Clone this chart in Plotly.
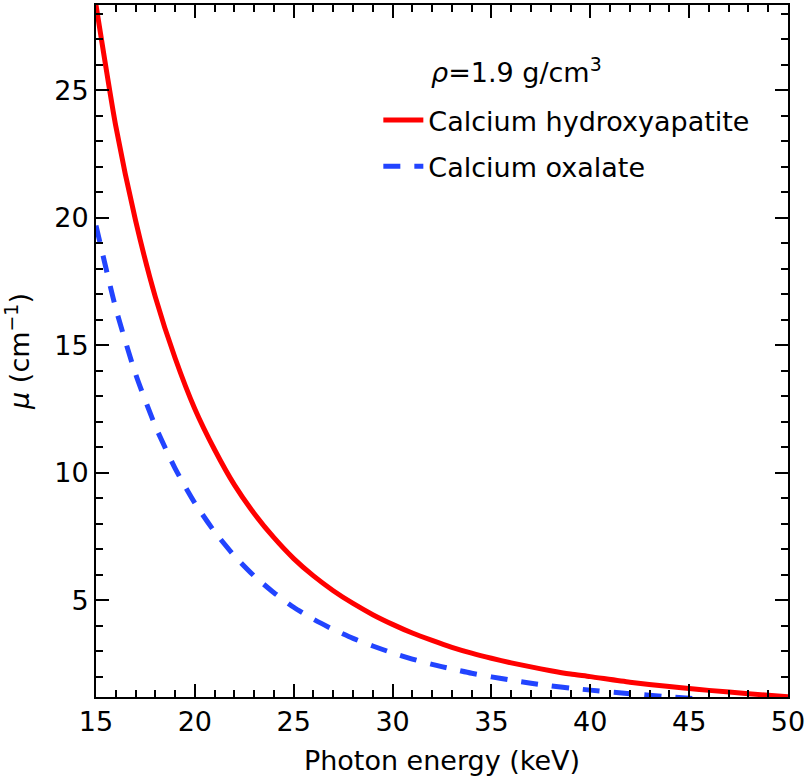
import plotly.graph_objects as go

# Photon energy (keV)
energy_hap = [15, 16, 17, 18, 19, 20, 21, 22, 23, 24, 25, 26, 27, 28, 29, 30,
              31, 32, 33, 34, 35, 36, 37, 38, 39, 40, 42, 44, 45, 46, 48, 50]
mu_hap = [28.35, 23.6, 19.9, 16.9, 14.5, 12.5, 10.9, 9.52, 8.4, 7.45, 6.63, 5.95,
          5.37, 4.87, 4.43, 4.05, 3.71, 3.42, 3.15, 2.92, 2.72, 2.54, 2.38, 2.23,
          2.10, 2.0, 1.78, 1.61, 1.53, 1.46, 1.33, 1.21]

energy_ox = [15, 16, 17, 18, 19, 20, 21, 22, 23, 24, 25, 26, 27, 28, 29, 30,
             31, 32, 33, 34, 35, 36, 37, 38, 39, 40, 42, 44, 45, 46, 48, 50]
mu_ox = [19.7, 16.45, 13.88, 11.83, 10.17, 8.81, 7.68, 6.74, 5.95, 5.29, 4.72, 4.25,
         3.85, 3.5, 3.2, 2.93, 2.69, 2.48, 2.3, 2.13, 1.99, 1.86, 1.74, 1.64,
         1.55, 1.47, 1.33, 1.21, 1.15, 1.1, 1.01, 0.92]

x_ticks = [15, 20, 25, 30, 35, 40, 45, 50]
y_ticks = [5, 10, 15, 20, 25]

FONT = "DejaVu Sans"
FS = 27

fig = go.Figure()
fig.add_trace(go.Scatter(
    x=energy_hap, y=mu_hap, mode="lines", name="Calcium hydroxyapatite",
    line=dict(color="#ff0000", width=5, shape="spline", smoothing=0.6),
    legendgroup="a"))
fig.add_trace(go.Scatter(
    x=energy_ox, y=mu_ox, mode="lines", name="Calcium oxalate",
    line=dict(color="#2244ff", width=5, dash="17px,14px", shape="spline", smoothing=0.6),
    legendgroup="b"))

axis_common = dict(
    showline=True, linecolor="black", linewidth=2, mirror="ticks",
    ticks="inside", ticklen=13, tickwidth=2, tickcolor="black",
    showgrid=False, zeroline=False, automargin=False,
    tickfont=dict(family=FONT, size=FS, color="black"),
)

fig.update_xaxes(
    range=[15, 50], tickvals=x_ticks,
    minor=dict(ticks="inside", ticklen=7, tickwidth=2, tickcolor="black", dtick=1, showgrid=False),
    title=dict(text="Photon energy (keV)", font=dict(family=FONT, size=FS, color="black"), standoff=15),
    **axis_common)
fig.update_yaxes(
    range=[1.2, 28.35], tickvals=y_ticks,
    minor=dict(ticks="inside", ticklen=7, tickwidth=2, tickcolor="black", dtick=1, showgrid=False),
    title=dict(text="<i>μ</i> (cm<sup>−1</sup>)", font=dict(family=FONT, size=FS, color="black"), standoff=19),
    **axis_common)

fig.add_annotation(
    x=0.481, y=0.906, xref="paper", yref="paper", xanchor="left", yanchor="middle",
    text="<i>ρ</i>=1.9 g/cm<sup>3</sup>", showarrow=False,
    font=dict(family=FONT, size=FS, color="black"))

fig.update_layout(
    width=808, height=780,
    margin=dict(l=96, r=20, t=5, b=83),
    paper_bgcolor="white", plot_bgcolor="white",
    showlegend=True,
    legend=dict(
        x=0.408, y=0.8685, xanchor="left", yanchor="top",
        bgcolor="rgba(0,0,0,0)", borderwidth=0,
        font=dict(family=FONT, size=FS, color="black"),
        tracegroupgap=8, itemwidth=40,
    ),
)

fig.write_html("out.html", config={"displayModeBar": False},
               post_script="document.body.style.margin='0px';")
